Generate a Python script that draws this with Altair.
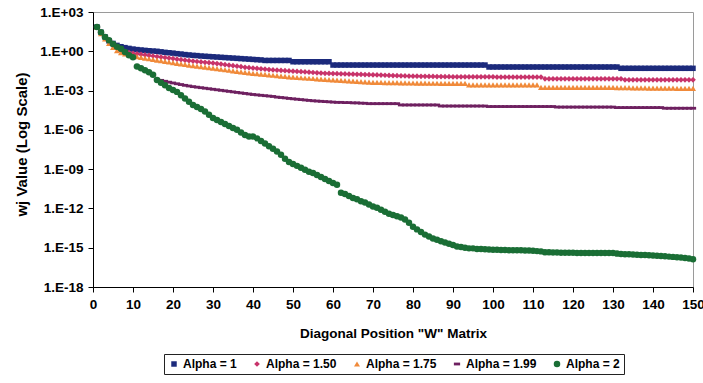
import altair as alt
import pandas as pd

# Diagonal positions 1..150 of the "W" matrix
positions = list(range(1, 151))

series_labels = ["Alpha = 1", "Alpha = 1.50", "Alpha = 1.75", "Alpha = 1.99", "Alpha = 2"]
series_colors = ["#1c2a7c", "#c8336a", "#f08a3a", "#6e2060", "#1a6e35"]
series_shapes = ["square", "diamond", "triangle-up", "M-1,-0.45H1V0.45H-1Z", "circle"]
series_sizes = [30, 42, 40, 40, 34]

# log10 of w_j
alpha_1_log10 = [
    1.85, 1.45, 1.10, 0.80, 0.60, 0.45, 0.35, 0.28, 0.22, 0.17,
    0.13, 0.10, 0.07, 0.04, 0.02, 0.00, -0.04, -0.08, -0.11, -0.14,
    -0.18, -0.21, -0.25, -0.28, -0.31, -0.33, -0.36, -0.38, -0.40, -0.42,
    -0.44, -0.46, -0.48, -0.50, -0.52, -0.54, -0.56, -0.58, -0.60, -0.62,
    -0.64, -0.66, -0.70, -0.70, -0.70, -0.70, -0.70, -0.70, -0.70, -0.80,
    -0.80, -0.80, -0.80, -0.80, -0.80, -0.80, -0.80, -0.80, -0.80, -1.05,
    -1.05, -1.05, -1.05, -1.05, -1.05, -1.05, -1.05, -1.05, -1.05, -1.05,
    -1.05, -1.05, -1.05, -1.05, -1.05, -1.05, -1.05, -1.05, -1.05, -1.05,
    -1.05, -1.05, -1.05, -1.05, -1.05, -1.05, -1.05, -1.05, -1.05, -1.05,
    -1.05, -1.05, -1.05, -1.05, -1.05, -1.05, -1.05, -1.05, -1.20, -1.20,
    -1.20, -1.20, -1.20, -1.20, -1.20, -1.20, -1.20, -1.20, -1.20, -1.20,
    -1.20, -1.20, -1.20, -1.20, -1.20, -1.20, -1.20, -1.20, -1.20, -1.20,
    -1.20, -1.20, -1.20, -1.20, -1.20, -1.20, -1.20, -1.20, -1.20, -1.20,
    -1.20, -1.30, -1.30, -1.30, -1.30, -1.30, -1.30, -1.30, -1.30, -1.30,
    -1.30, -1.30, -1.30, -1.30, -1.30, -1.30, -1.30, -1.30, -1.30, -1.30,
]

alpha_150_log10 = [
    1.85, 1.40, 1.00, 0.70, 0.45, 0.25, 0.05, -0.03, -0.10, -0.15,
    -0.20, -0.24, -0.28, -0.32, -0.36, -0.40, -0.44, -0.48, -0.52, -0.56,
    -0.60, -0.64, -0.68, -0.72, -0.75, -0.78, -0.81, -0.84, -0.87, -0.90,
    -0.94, -0.98, -1.02, -1.06, -1.10, -1.14, -1.18, -1.22, -1.25, -1.28,
    -1.31, -1.34, -1.37, -1.40, -1.42, -1.44, -1.46, -1.48, -1.50, -1.52,
    -1.54, -1.56, -1.58, -1.60, -1.62, -1.64, -1.66, -1.68, -1.69, -1.70,
    -1.71, -1.72, -1.73, -1.74, -1.75, -1.76, -1.77, -1.78, -1.79, -1.80,
    -1.81, -1.82, -1.83, -1.84, -1.85, -1.86, -1.87, -1.88, -1.89, -1.90,
    -1.90, -1.91, -1.91, -1.92, -1.92, -1.93, -1.93, -1.94, -1.94, -1.95,
    -1.95, -1.95, -1.95, -1.95, -1.95, -1.95, -1.95, -1.95, -1.95, -1.95,
    -1.97, -1.97, -1.97, -1.97, -1.97, -1.97, -1.97, -1.97, -1.97, -1.97,
    -1.97, -1.97, -2.10, -2.10, -2.10, -2.10, -2.10, -2.10, -2.10, -2.10,
    -2.10, -2.10, -2.10, -2.10, -2.10, -2.10, -2.10, -2.10, -2.10, -2.10,
    -2.10, -2.10, -2.18, -2.18, -2.18, -2.18, -2.18, -2.18, -2.18, -2.18,
    -2.18, -2.18, -2.18, -2.18, -2.18, -2.18, -2.18, -2.18, -2.18, -2.18,
]

alpha_175_log10 = [
    1.85, 1.35, 0.95, 0.60, 0.30, 0.05, -0.10, -0.20, -0.28, -0.35,
    -0.41, -0.47, -0.52, -0.57, -0.62, -0.67, -0.72, -0.77, -0.82, -0.87,
    -0.92, -0.96, -1.00, -1.05, -1.09, -1.13, -1.17, -1.21, -1.25, -1.29,
    -1.33, -1.37, -1.41, -1.45, -1.49, -1.53, -1.57, -1.61, -1.65, -1.68,
    -1.71, -1.74, -1.77, -1.80, -1.83, -1.86, -1.89, -1.92, -1.95, -1.98,
    -2.00, -2.02, -2.04, -2.06, -2.08, -2.10, -2.12, -2.14, -2.16, -2.18,
    -2.20, -2.22, -2.24, -2.26, -2.28, -2.30, -2.32, -2.34, -2.36, -2.37,
    -2.38, -2.38, -2.39, -2.39, -2.40, -2.40, -2.41, -2.41, -2.42, -2.42,
    -2.43, -2.43, -2.43, -2.44, -2.44, -2.44, -2.45, -2.45, -2.45, -2.45,
    -2.45, -2.45, -2.45, -2.57, -2.57, -2.57, -2.57, -2.57, -2.57, -2.57,
    -2.57, -2.57, -2.57, -2.57, -2.57, -2.57, -2.57, -2.57, -2.57, -2.57,
    -2.57, -2.75, -2.75, -2.75, -2.75, -2.75, -2.75, -2.75, -2.75, -2.75,
    -2.75, -2.75, -2.75, -2.75, -2.75, -2.75, -2.75, -2.75, -2.75, -2.75,
    -2.77, -2.77, -2.78, -2.78, -2.79, -2.79, -2.80, -2.80, -2.81, -2.81,
    -2.81, -2.82, -2.82, -2.82, -2.82, -2.83, -2.83, -2.83, -2.83, -2.83,
]

alpha_199_log10 = [
    1.85, 1.45, 1.10, 0.85, 0.55, 0.35, 0.20, -0.05, -0.30, -0.45,
    -1.17, -1.30, -1.45, -1.60, -1.80, -2.14, -2.22, -2.29, -2.36, -2.42,
    -2.48, -2.54, -2.60, -2.65, -2.70, -2.74, -2.78, -2.82, -2.86, -2.90,
    -2.94, -2.98, -3.02, -3.06, -3.10, -3.14, -3.18, -3.22, -3.26, -3.30,
    -3.33, -3.36, -3.39, -3.42, -3.45, -3.50, -3.53, -3.56, -3.60, -3.63,
    -3.66, -3.69, -3.72, -3.75, -3.78, -3.80, -3.82, -3.84, -3.86, -3.88,
    -3.90, -3.90, -3.92, -3.92, -3.94, -3.94, -3.96, -3.97, -4.00, -4.00,
    -4.00, -4.00, -4.00, -4.00, -4.00, -4.00, -4.10, -4.10, -4.10, -4.10,
    -4.10, -4.10, -4.10, -4.10, -4.10, -4.10, -4.18, -4.18, -4.18, -4.18,
    -4.18, -4.18, -4.18, -4.18, -4.18, -4.18, -4.18, -4.18, -4.22, -4.22,
    -4.22, -4.22, -4.22, -4.22, -4.22, -4.22, -4.22, -4.22, -4.22, -4.22,
    -4.22, -4.22, -4.22, -4.22, -4.22, -4.26, -4.26, -4.26, -4.26, -4.26,
    -4.26, -4.26, -4.26, -4.26, -4.26, -4.26, -4.26, -4.26, -4.26, -4.26,
    -4.30, -4.30, -4.30, -4.30, -4.30, -4.30, -4.30, -4.30, -4.30, -4.30,
    -4.30, -4.30, -4.35, -4.35, -4.35, -4.35, -4.35, -4.35, -4.35, -4.35,
]

alpha_2_log10 = [
    1.85, 1.45, 1.10, 0.85, 0.55, 0.35, 0.20, -0.05, -0.30, -0.45,
    -1.17, -1.30, -1.45, -1.60, -1.80, -2.20, -2.40, -2.60, -2.80, -2.95,
    -3.10, -3.35, -3.60, -3.85, -4.10, -4.25, -4.40, -4.60, -4.85, -5.10,
    -5.25, -5.40, -5.55, -5.70, -5.85, -6.00, -6.20, -6.40, -6.50, -6.50,
    -6.65, -6.85, -7.05, -7.25, -7.45, -7.65, -7.90, -8.20, -8.45, -8.60,
    -8.75, -8.90, -9.05, -9.20, -9.30, -9.45, -9.60, -9.75, -9.90, -10.05,
    -10.20, -10.80, -10.90, -11.05, -11.20, -11.30, -11.45, -11.55, -11.70, -11.85,
    -11.95, -12.10, -12.25, -12.40, -12.50, -12.60, -12.70, -12.85, -13.10, -13.40,
    -13.60, -13.80, -14.00, -14.15, -14.30, -14.40, -14.50, -14.60, -14.70, -14.80,
    -14.90, -14.95, -15.00, -15.05, -15.05, -15.10, -15.10, -15.12, -15.14, -15.15,
    -15.16, -15.17, -15.18, -15.19, -15.20, -15.20, -15.20, -15.22, -15.22, -15.24,
    -15.26, -15.28, -15.35, -15.35, -15.36, -15.37, -15.38, -15.38, -15.39, -15.39,
    -15.40, -15.40, -15.40, -15.40, -15.40, -15.40, -15.40, -15.40, -15.40, -15.40,
    -15.45, -15.48, -15.50, -15.50, -15.52, -15.54, -15.55, -15.56, -15.58, -15.60,
    -15.62, -15.64, -15.66, -15.68, -15.70, -15.72, -15.75, -15.78, -15.82, -15.88,
]

x_tick_values = list(range(0, 151, 10))
y_tick_values = [1e3, 1e0, 1e-3, 1e-6, 1e-9, 1e-12, 1e-15, 1e-18]

all_series = [alpha_1_log10, alpha_150_log10, alpha_175_log10, alpha_199_log10, alpha_2_log10]
rows = []
for label, logs in zip(series_labels, all_series):
    for pos, lv in zip(positions, logs):
        rows.append({"position": pos, "value": 10.0 ** lv, "series": label})
df = pd.DataFrame(rows)

FONT = "Liberation Sans"

legend_cfg = dict(
    title=None,
    orient="none",
    legendX=71,
    legendY=342,
    direction="horizontal",
    columns=5,
    strokeColor="#222222",
    fillColor="white",
    padding=4,
    columnPadding=14,
    labelFont=FONT,
    labelFontSize=12,
    labelFontWeight="bold",
    labelColor="black",
    symbolSize=24,
    symbolStrokeWidth=0,
    labelOffset=3,
)

y_label_expr = (
    "'1.E' + (round(log(datum.value)/LN10) >= 0 ? '+' : '-') + "
    "pad(abs(round(log(datum.value)/LN10)), 2, '0', 'left')"
)

chart = (
    alt.Chart(df)
    .mark_point(filled=True, opacity=1)
    .encode(
        x=alt.X(
            "position:Q",
            scale=alt.Scale(domain=[0, 150], nice=False, zero=False),
            axis=alt.Axis(
                values=x_tick_values,
                title='Diagonal Position "W" Matrix',
                labelFlush=False,
                grid=False,
                tickSize=5,
                labelPadding=5,
                titlePadding=16,
            ),
        ),
        y=alt.Y(
            "value:Q",
            scale=alt.Scale(type="log", domain=[1e-18, 1e3], nice=False),
            axis=alt.Axis(
                values=y_tick_values,
                labelExpr=y_label_expr,
                title="wj Value (Log Scale)",
                titleFontSize=15,
                grid=False,
                tickSize=5,
                labelPadding=5,
                titlePadding=10,
                titleY=132,
            ),
        ),
        color=alt.Color(
            "series:N",
            scale=alt.Scale(domain=series_labels, range=series_colors),
            legend=alt.Legend(**legend_cfg),
        ),
        shape=alt.Shape(
            "series:N",
            scale=alt.Scale(domain=series_labels, range=series_shapes),
            legend=alt.Legend(**legend_cfg),
        ),
        size=alt.Size(
            "series:N",
            scale=alt.Scale(domain=series_labels, range=series_sizes),
            legend=None,
        ),
    )
    .properties(
        width=600,
        height=275,
        autosize=alt.AutoSizeParams(type="none"),
        padding={"left": 93, "top": 12, "right": 10, "bottom": 96},
        background="white",
    )
    .configure_view(stroke="#9a9a9a", strokeWidth=1)
    .configure_axis(
        labelFont=FONT,
        labelFontSize=13.5,
        labelFontWeight="bold",
        labelColor="black",
        titleFont=FONT,
        titleFontSize=13.5,
        titleFontWeight="bold",
        titleColor="black",
        domainColor="black",
        tickColor="black",
        domainWidth=1,
        tickWidth=1,
    )
)

chart.save("out.html", embed_options={"renderer": "svg", "actions": False})
